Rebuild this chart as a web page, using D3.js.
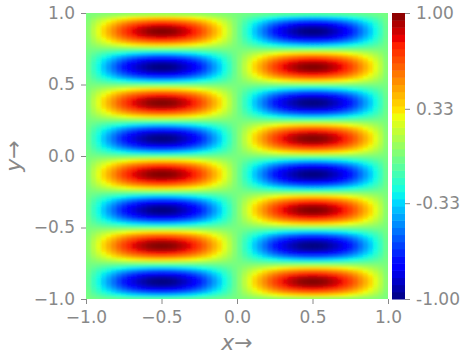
<!DOCTYPE html>
<html>
<head>
<meta charset="utf-8">
<script src="https://cdn.jsdelivr.net/npm/d3@7"></script>
<style>
    html, body { margin: 0; padding: 0; background: #fff; }
    svg { display: block; }
    text { font-family: "DejaVu Sans", sans-serif; fill: #888888; }
</style>
</head>
<body>
<div id="chart"></div>
<script>
// amplitude across the image, left to right (estimated along y = 0.875)
const xProfile = [
    -0.05, -0.16, -0.26, -0.36, -0.45, -0.54, -0.63, -0.71, -0.78, -0.84, -0.89, -0.93, -0.97, -0.99, -1.00,
    -1.00, -0.99, -0.97, -0.93, -0.89, -0.84, -0.78, -0.71, -0.63, -0.54, -0.45, -0.36, -0.26, -0.16, -0.05,
    0.05, 0.16, 0.26, 0.36, 0.45, 0.54, 0.63, 0.71, 0.78, 0.84, 0.89, 0.93, 0.97, 0.99, 1.00,
    1.00, 0.99, 0.97, 0.93, 0.89, 0.84, 0.78, 0.71, 0.63, 0.54, 0.45, 0.36, 0.26, 0.16, 0.05
];

// amplitude up the image, bottom to top (estimated along x = 0.5), one line per stripe
const yProfile = [
    0.13, 0.38, 0.61, 0.79, 0.92, 0.99, 0.99, 0.92, 0.79, 0.61, 0.38, 0.13,
    -0.13, -0.38, -0.61, -0.79, -0.92, -0.99, -0.99, -0.92, -0.79, -0.61, -0.38, -0.13,
    0.13, 0.38, 0.61, 0.79, 0.92, 0.99, 0.99, 0.92, 0.79, 0.61, 0.38, 0.13,
    -0.13, -0.38, -0.61, -0.79, -0.92, -0.99, -0.99, -0.92, -0.79, -0.61, -0.38, -0.13,
    0.13, 0.38, 0.61, 0.79, 0.92, 0.99, 0.99, 0.92, 0.79, 0.61, 0.38, 0.13,
    -0.13, -0.38, -0.61, -0.79, -0.92, -0.99, -0.99, -0.92, -0.79, -0.61, -0.38, -0.13,
    0.13, 0.38, 0.61, 0.79, 0.92, 0.99, 0.99, 0.92, 0.79, 0.61, 0.38, 0.13,
    -0.13, -0.38, -0.61, -0.79, -0.92, -0.99, -0.99, -0.92, -0.79, -0.61, -0.38, -0.13
];

const axisTicks = [-1, -0.5, 0, 0.5, 1];
const barTicks = [-1, -0.33, 0.33, 1];

// jet colormap stops
const jetStops = [0, 0.11, 0.125, 0.34, 0.35, 0.375, 0.64, 0.65, 0.66, 0.89, 0.91, 1];
const jetColors = ["#000080", "#0000ff", "#0000ff", "#00dbff", "#00e5f7", "#0dffe8", "#f0ff0a",
    "#faf000", "#ffe600", "#ff1e00", "#ee0000", "#800000"];

const width = 467, height = 357;
const margin = {top: 13, right: 79, bottom: 58, left: 86};
const plotRight = width - margin.right;
const plotBottom = height - margin.bottom;

const svg = d3.select("#chart").append("svg")
    .attr("width", width)
    .attr("height", height);

// scales
const x = d3.scaleLinear().domain([-1, 1]).range([margin.left, plotRight]);
const y = d3.scaleLinear().domain([-1, 1]).range([plotBottom, margin.top]);
const colX = d3.scaleBand().domain(d3.range(xProfile.length)).range([margin.left, plotRight]);
const rowY = d3.scaleBand().domain(d3.range(yProfile.length)).range([plotBottom, margin.top]);
const color = d3.scaleLinear()
    .domain(jetStops.map(d => d * 2 - 1))
    .range(jetColors);

// soften the cell edges, the original image is resampled
const defs = svg.append("defs");
defs.append("clipPath").attr("id", "plotClip").append("rect")
    .attr("x", margin.left)
    .attr("y", margin.top)
    .attr("width", plotRight - margin.left)
    .attr("height", plotBottom - margin.top);
defs.append("filter").attr("id", "soften")
    .attr("x", "-5%").attr("y", "-5%").attr("width", "110%").attr("height", "110%")
    .append("feGaussianBlur").attr("stdDeviation", 1.3);

const image = svg.append("g").attr("clip-path", "url(#plotClip)");
image.append("rect")
    .attr("x", margin.left)
    .attr("y", margin.top)
    .attr("width", plotRight - margin.left)
    .attr("height", plotBottom - margin.top)
    .attr("fill", color(0));

const cells = [];
yProfile.forEach((yv, j) => xProfile.forEach((xv, i) => cells.push({i: i, j: j, value: xv * yv})));

image.append("g").attr("filter", "url(#soften)")
    .selectAll("rect")
    .data(cells)
    .join("rect")
    .attr("x", d => colX(d.i))
    .attr("y", d => rowY(d.j))
    .attr("width", colX.bandwidth() + 0.5)
    .attr("height", rowY.bandwidth() + 0.5)
    .attr("fill", d => color(d.value));

// axes
function styleAxis(g) {
    g.select(".domain").remove();
    g.selectAll(".tick line").attr("stroke", "#888888");
    g.selectAll(".tick text").style("font-size", "17px").attr("fill", "#888888");
}

svg.append("g")
    .attr("transform", `translate(0, ${plotBottom})`)
    .call(d3.axisBottom(x).tickValues(axisTicks).tickFormat(d3.format(".1f")).tickSize(5).tickPadding(7))
    .call(styleAxis);

svg.append("g")
    .attr("transform", `translate(${margin.left}, 0)`)
    .call(d3.axisLeft(y).tickValues(axisTicks).tickFormat(d3.format(".1f")).tickSize(5).tickPadding(6))
    .call(styleAxis);

// colorbar
const barLeft = 392, barRight = 405, barLevels = 40;
const barBand = d3.scaleBand().domain(d3.range(barLevels)).range([plotBottom, margin.top]);

svg.append("g").selectAll("rect")
    .data(d3.range(barLevels))
    .join("rect")
    .attr("x", barLeft)
    .attr("y", d => barBand(d))
    .attr("width", barRight - barLeft)
    .attr("height", barBand.bandwidth() + 0.5)
    .attr("fill", d => color((d + 0.5) / barLevels * 2 - 1));

svg.append("g")
    .attr("transform", `translate(${barRight}, 0)`)
    .call(d3.axisRight(y).tickValues(barTicks).tickFormat(d => d.toFixed(2)).tickSize(5).tickPadding(6))
    .call(styleAxis);

// axis labels
const xLabel = svg.append("text")
    .attr("x", (margin.left + plotRight) / 2)
    .attr("y", 350)
    .attr("text-anchor", "middle")
    .style("font-size", "22px");
xLabel.append("tspan").attr("font-style", "italic").text("x");
xLabel.append("tspan").text("→");

const yLabel = svg.append("text")
    .attr("transform", `translate(21, ${(margin.top + plotBottom) / 2}) rotate(-90)`)
    .attr("text-anchor", "middle")
    .style("font-size", "22px");
yLabel.append("tspan").attr("font-style", "italic").text("y");
yLabel.append("tspan").text("→");
</script>
</body>
</html>
